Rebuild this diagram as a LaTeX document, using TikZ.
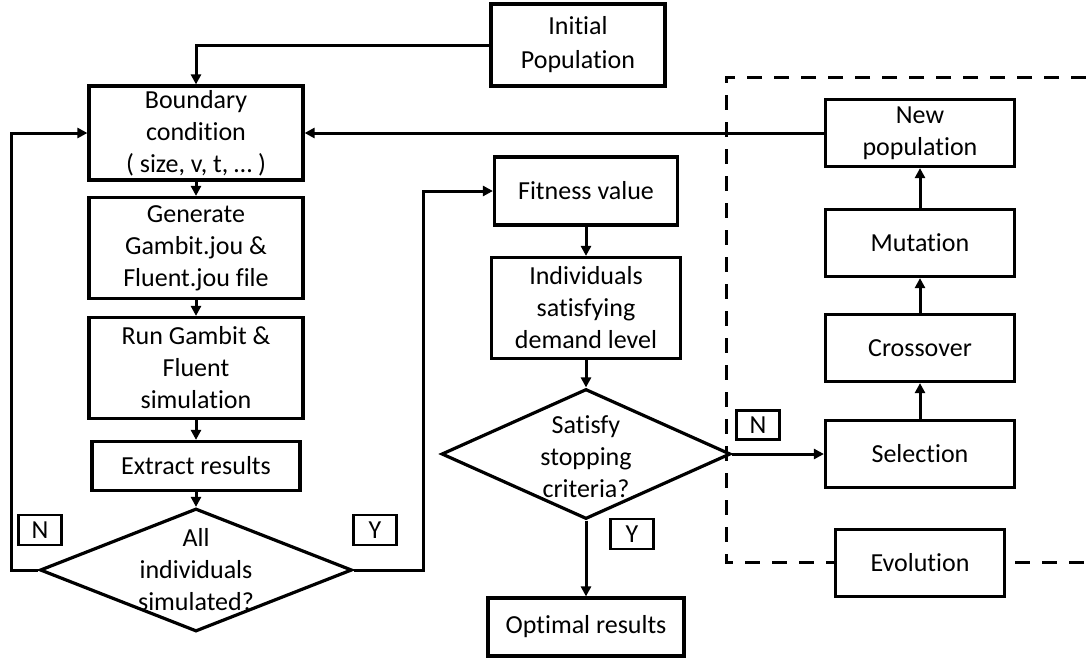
\documentclass[tikz,border=0pt]{standalone}
\usepackage{fontspec}
\setmainfont{Carlito}[Ligatures=NoCommon]
\usetikzlibrary{shapes.geometric,arrows.meta}

\begin{document}
\begin{tikzpicture}
[x=0.5pt,y=-0.5pt,line width=1.5pt,>={Triangle[length=5pt,width=5pt]},
every node/.style={inner sep=0pt,align=center,font=\fontsize{13}{16}\selectfont},
box/.style={draw,fill=white,line width=1.6pt,rectangle,minimum width=94.5pt,minimum height=33.5pt},
decision/.style={draw,fill=white,line width=1.6pt,diamond},
tag/.style={draw,fill=white,line width=1.4pt,minimum width=21.5pt,minimum height=15pt}]
\useasboundingbox (0,0) rectangle (1086,659);
% evolution frame
\coordinate (frTR) at (1086,77);
\coordinate (frTL) at (726,77);
\coordinate (frBL) at (726,562);
\coordinate (frBR) at (1086,562);
\draw[dash pattern=on 7.5pt off 6pt] (frTR) -- (frTL) -- (frBL) -- (frBR);
% left column
\node[box,minimum width=87pt,minimum height=41pt,font=\fontsize{13}{17}\selectfont] (init) at (578,45) {Initial\\Population};
\node[box,minimum width=107pt,minimum height=47pt] (bound) at (196,133) {Boundary\\condition\\( size, v, t, \dots\ )};
\node[box,minimum width=107pt,minimum height=50.5pt] (gen) at (196,248) {Generate\\Gambit.jou \&\\Fluent.jou file};
\node[box,minimum width=107pt,minimum height=50.5pt] (run) at (196,368) {Run Gambit \&\\Fluent\\simulation};
\node[box,minimum width=104pt,minimum height=24.5pt] (extract) at (196,466) {Extract results};
\node[decision,minimum width=156pt,minimum height=61.5pt,
  label={center:All\\individuals\\simulated?}] (allsim) at (196,570) {};
\node[tag] (tagN1) at (40,530) {N};
\node[tag] (tagY1) at (375,530) {Y};
\coordinate (lloop) at (11,570);
\coordinate (rloop) at (423,570);
% middle column
\node[box,minimum width=91.5pt,minimum height=34pt] (fitness) at (586,191) {Fitness value};
\node[box,minimum width=94.5pt,minimum height=50.5pt] (indiv) at (586,308) {Individuals\\satisfying\\demand level};
\node[decision,minimum width=144.5pt,minimum height=65pt,
  label={[yshift=-1.5pt]center:Satisfy\\stopping\\criteria?}] (satisfy) at (586,454) {};
\node[tag] (tagY2) at (632,534) {Y};
\node[box,minimum width=98pt,minimum height=29pt] (optimal) at (586,627) {Optimal results};
% evolution
\node[box] (newpop) at (920,133) {New\\population};
\node[box] (mutation) at (920,243) {Mutation};
\node[box] (crossover) at (920,348) {Crossover};
\node[box] (selection) at (920,454) {Selection};
\node[box,minimum width=84.5pt] (evolution) at (920,563) {Evolution};
\node[tag,minimum height=14.5pt] (tagN2) at (758,425) {N};
% connectors
\foreach \from/\to in {bound/gen,gen/run,run/extract,extract/allsim,fitness/indiv,indiv/satisfy,satisfy/optimal,selection/crossover,crossover/mutation,mutation/newpop}
\draw[->] (\from) -- (\to);
\draw[->] (init.west) -| (bound.north);
\draw[->] (newpop.west) -- (bound.east);
\draw[->] (allsim.west) -- (lloop) |- (bound.west);
\draw[->] (allsim.east) -- (rloop) |- (fitness.west);
\draw[->] (satisfy.east) -- (selection.west);
\end{tikzpicture}
\end{document}
